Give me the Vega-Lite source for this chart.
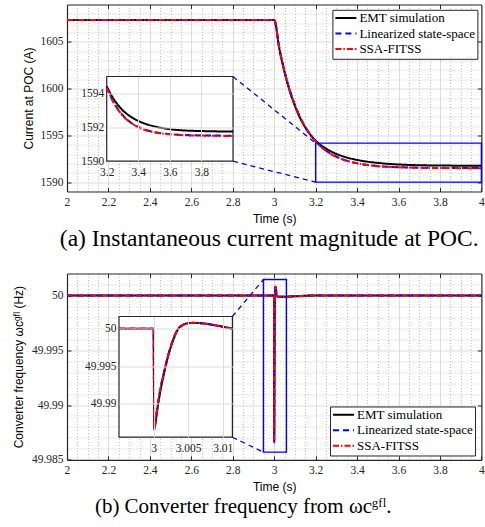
{
"$schema": "https://vega.github.io/schema/vega-lite/v6.json",
"padding": {"left": 12, "top": 3.5, "right": 0, "bottom": 0},
"bounds": "flush",
"spacing": 82,
"config": {
  "view": {"stroke": null},
  "axis": {"labelFont": "Liberation Serif", "labelFontSize": 11.5, "labelColor": "#262626", "titleFont": "Liberation Sans", "titleFontSize": 12, "titleFontWeight": "normal", "titleColor": "#000000", "tickColor": "#262626", "domainColor": "#262626", "domainWidth": 1.2, "tickWidth": 1, "labelFlush": false, "labelOverlap": false, "tickSize": -4}
},
"resolve": {"scale": {"color": "independent", "strokeDash": "independent"}},
"datasets": {
  "cur": [
    {"s":"EMT simulation","t":2,"v":1607.35},{"s":"EMT simulation","t":3,"v":1607.35},{"s":"EMT simulation","t":3.025,"v":1604.25},{"s":"EMT simulation","t":3.05,"v":1601.75},{"s":"EMT simulation","t":3.075,"v":1599.75},{"s":"EMT simulation","t":3.1,"v":1598.15},{"s":"EMT simulation","t":3.125,"v":1596.85},{"s":"EMT simulation","t":3.15,"v":1595.85},{"s":"EMT simulation","t":3.175,"v":1595.05},{"s":"EMT simulation","t":3.2,"v":1594.43},{"s":"EMT simulation","t":3.225,"v":1593.97},{"s":"EMT simulation","t":3.25,"v":1593.59},{"s":"EMT simulation","t":3.275,"v":1593.28},{"s":"EMT simulation","t":3.3,"v":1593.02},{"s":"EMT simulation","t":3.35,"v":1592.64},{"s":"EMT simulation","t":3.4,"v":1592.38},{"s":"EMT simulation","t":3.45,"v":1592.19},{"s":"EMT simulation","t":3.5,"v":1592.06},{"s":"EMT simulation","t":3.55,"v":1591.96},{"s":"EMT simulation","t":3.6,"v":1591.89},{"s":"EMT simulation","t":3.7,"v":1591.81},{"s":"EMT simulation","t":3.8,"v":1591.78},{"s":"EMT simulation","t":3.9,"v":1591.76},{"s":"EMT simulation","t":4,"v":1591.75},
    {"s":"Linearized state-space","t":2,"v":1607.35},{"s":"Linearized state-space","t":3,"v":1607.35},{"s":"Linearized state-space","t":3.025,"v":1604.31},{"s":"Linearized state-space","t":3.05,"v":1601.85},{"s":"Linearized state-space","t":3.075,"v":1599.86},{"s":"Linearized state-space","t":3.1,"v":1598.26},{"s":"Linearized state-space","t":3.125,"v":1596.96},{"s":"Linearized state-space","t":3.15,"v":1595.91},{"s":"Linearized state-space","t":3.175,"v":1595.07},{"s":"Linearized state-space","t":3.2,"v":1594.38},{"s":"Linearized state-space","t":3.225,"v":1593.83},{"s":"Linearized state-space","t":3.25,"v":1593.38},{"s":"Linearized state-space","t":3.275,"v":1593.02},{"s":"Linearized state-space","t":3.3,"v":1592.73},{"s":"Linearized state-space","t":3.35,"v":1592.3},{"s":"Linearized state-space","t":3.4,"v":1592.02},{"s":"Linearized state-space","t":3.45,"v":1591.84},{"s":"Linearized state-space","t":3.5,"v":1591.72},{"s":"Linearized state-space","t":3.55,"v":1591.65},{"s":"Linearized state-space","t":3.6,"v":1591.6},{"s":"Linearized state-space","t":3.7,"v":1591.54},{"s":"Linearized state-space","t":3.8,"v":1591.52},{"s":"Linearized state-space","t":3.9,"v":1591.51},{"s":"Linearized state-space","t":4,"v":1591.5},
    {"s":"SSA-FITSS","t":2,"v":1607.35},{"s":"SSA-FITSS","t":3,"v":1607.35},{"s":"SSA-FITSS","t":3.025,"v":1604.3},{"s":"SSA-FITSS","t":3.05,"v":1601.84},{"s":"SSA-FITSS","t":3.075,"v":1599.85},{"s":"SSA-FITSS","t":3.1,"v":1598.25},{"s":"SSA-FITSS","t":3.125,"v":1596.95},{"s":"SSA-FITSS","t":3.15,"v":1595.9},{"s":"SSA-FITSS","t":3.175,"v":1595.06},{"s":"SSA-FITSS","t":3.2,"v":1594.36},{"s":"SSA-FITSS","t":3.225,"v":1593.81},{"s":"SSA-FITSS","t":3.25,"v":1593.36},{"s":"SSA-FITSS","t":3.275,"v":1593.0},{"s":"SSA-FITSS","t":3.3,"v":1592.71},{"s":"SSA-FITSS","t":3.35,"v":1592.29},{"s":"SSA-FITSS","t":3.4,"v":1592.01},{"s":"SSA-FITSS","t":3.45,"v":1591.83},{"s":"SSA-FITSS","t":3.5,"v":1591.71},{"s":"SSA-FITSS","t":3.55,"v":1591.64},{"s":"SSA-FITSS","t":3.6,"v":1591.59},{"s":"SSA-FITSS","t":3.7,"v":1591.53},{"s":"SSA-FITSS","t":3.8,"v":1591.51},{"s":"SSA-FITSS","t":3.9,"v":1591.5},{"s":"SSA-FITSS","t":4,"v":1591.49}
  ],
  "freq": [
    {"s":"EMT simulation","t":2,"v":50},{"s":"EMT simulation","t":2.995,"v":50},{"s":"EMT simulation","t":3,"v":50},{"s":"EMT simulation","t":3.0001,"v":49.9868},{"s":"EMT simulation","t":3.0003,"v":49.9876},{"s":"EMT simulation","t":3.0006,"v":49.9896},{"s":"EMT simulation","t":3.001,"v":49.9918},{"s":"EMT simulation","t":3.0015,"v":49.994},{"s":"EMT simulation","t":3.002,"v":49.996},{"s":"EMT simulation","t":3.0025,"v":49.9976},{"s":"EMT simulation","t":3.003,"v":49.9989},{"s":"EMT simulation","t":3.0035,"v":49.9999},{"s":"EMT simulation","t":3.004,"v":50.00036},{"s":"EMT simulation","t":3.0045,"v":50.00063},{"s":"EMT simulation","t":3.005,"v":50.00075},{"s":"EMT simulation","t":3.0058,"v":50.0008},{"s":"EMT simulation","t":3.0065,"v":50.00078},{"s":"EMT simulation","t":3.0075,"v":50.0007},{"s":"EMT simulation","t":3.0085,"v":50.00055},{"s":"EMT simulation","t":3.0095,"v":50.00038},{"s":"EMT simulation","t":3.0105,"v":50.0002},{"s":"EMT simulation","t":3.0114,"v":50.0},{"s":"EMT simulation","t":3.02,"v":49.99988},{"s":"EMT simulation","t":3.05,"v":49.99988},{"s":"EMT simulation","t":3.1,"v":49.99992},{"s":"EMT simulation","t":3.2,"v":50},{"s":"EMT simulation","t":4,"v":50},
    {"s":"Linearized state-space","t":2,"v":50},{"s":"Linearized state-space","t":2.995,"v":50},{"s":"Linearized state-space","t":3,"v":50},{"s":"Linearized state-space","t":3.0001,"v":49.9866},{"s":"Linearized state-space","t":3.0003,"v":49.9878},{"s":"Linearized state-space","t":3.0006,"v":49.9899},{"s":"Linearized state-space","t":3.001,"v":49.9921},{"s":"Linearized state-space","t":3.0015,"v":49.9942},{"s":"Linearized state-space","t":3.002,"v":49.9961},{"s":"Linearized state-space","t":3.0025,"v":49.9977},{"s":"Linearized state-space","t":3.003,"v":49.999},{"s":"Linearized state-space","t":3.0035,"v":49.99995},{"s":"Linearized state-space","t":3.004,"v":50.0004},{"s":"Linearized state-space","t":3.0045,"v":50.00065},{"s":"Linearized state-space","t":3.005,"v":50.00076},{"s":"Linearized state-space","t":3.0058,"v":50.0008},{"s":"Linearized state-space","t":3.0065,"v":50.00078},{"s":"Linearized state-space","t":3.0075,"v":50.0007},{"s":"Linearized state-space","t":3.0085,"v":50.00055},{"s":"Linearized state-space","t":3.0095,"v":50.00038},{"s":"Linearized state-space","t":3.0105,"v":50.0002},{"s":"Linearized state-space","t":3.0114,"v":50.0},{"s":"Linearized state-space","t":3.02,"v":49.99988},{"s":"Linearized state-space","t":3.05,"v":49.99988},{"s":"Linearized state-space","t":3.1,"v":49.99992},{"s":"Linearized state-space","t":3.2,"v":50},{"s":"Linearized state-space","t":4,"v":50},
    {"s":"SSA-FITSS","t":2,"v":50},{"s":"SSA-FITSS","t":2.995,"v":50},{"s":"SSA-FITSS","t":3,"v":50},{"s":"SSA-FITSS","t":3.0001,"v":49.9866},{"s":"SSA-FITSS","t":3.0003,"v":49.9878},{"s":"SSA-FITSS","t":3.0006,"v":49.9899},{"s":"SSA-FITSS","t":3.001,"v":49.9921},{"s":"SSA-FITSS","t":3.0015,"v":49.9942},{"s":"SSA-FITSS","t":3.002,"v":49.9961},{"s":"SSA-FITSS","t":3.0025,"v":49.9977},{"s":"SSA-FITSS","t":3.003,"v":49.999},{"s":"SSA-FITSS","t":3.0035,"v":49.99995},{"s":"SSA-FITSS","t":3.004,"v":50.0004},{"s":"SSA-FITSS","t":3.0045,"v":50.00065},{"s":"SSA-FITSS","t":3.005,"v":50.00076},{"s":"SSA-FITSS","t":3.0058,"v":50.0008},{"s":"SSA-FITSS","t":3.0065,"v":50.00078},{"s":"SSA-FITSS","t":3.0075,"v":50.0007},{"s":"SSA-FITSS","t":3.0085,"v":50.00055},{"s":"SSA-FITSS","t":3.0095,"v":50.00038},{"s":"SSA-FITSS","t":3.0105,"v":50.0002},{"s":"SSA-FITSS","t":3.0114,"v":50.0},{"s":"SSA-FITSS","t":3.02,"v":49.99988},{"s":"SSA-FITSS","t":3.05,"v":49.99988},{"s":"SSA-FITSS","t":3.1,"v":49.99992},{"s":"SSA-FITSS","t":3.2,"v":50},{"s":"SSA-FITSS","t":4,"v":50}
  ]
},
"vconcat": [
 {
  "width": 414.4, "height": 187,
  "title": {"text": "(a) Instantaneous current magnitude at POC.", "orient": "bottom", "anchor": "middle", "frame": "group", "font": "Liberation Serif", "fontSize": 23.5, "fontWeight": "normal", "color": "#000000", "offset": 3, "dx": -5},
  "resolve": {"scale": {"x": "independent", "y": "independent"}},
  "layer": [
   {"data": {"name": "cur"}, "mark": {"type": "line", "opacity": 0},
    "encoding": {
     "x": {"field": "t", "type": "quantitative", "scale": {"domain": [2, 4], "nice": false, "zero": false},
       "axis": {"orient": "bottom", "values": [2.05,2.1,2.15,2.25,2.3,2.35,2.45,2.5,2.55,2.65,2.7,2.75,2.85,2.9,2.95,3.05,3.1,3.15,3.25,3.3,3.35,3.45,3.5,3.55,3.65,3.7,3.75,3.85,3.9,3.95], "grid": true, "gridDash": [1, 2], "gridColor": "#b4b4b4", "gridWidth": 0.8, "ticks": false, "labels": false, "domain": false, "title": null}},
     "y": {"field": "v", "type": "quantitative", "scale": {"domain": [1589, 1609], "nice": false, "zero": false},
       "axis": {"orient": "left", "values": [1591,1592,1593,1594,1596,1597,1598,1599,1601,1602,1603,1604,1606,1607,1608], "grid": true, "gridDash": [1, 2], "gridColor": "#b4b4b4", "gridWidth": 0.8, "ticks": false, "labels": false, "domain": false, "title": null}}
    }},
   {"data": {"name": "cur"}, "mark": {"type": "line", "opacity": 0},
    "encoding": {
     "x": {"field": "t", "type": "quantitative", "scale": {"domain": [2, 4], "nice": false, "zero": false},
       "axis": {"orient": "top", "values": [2.2,2.4,2.6,2.8,3,3.2,3.4,3.6,3.8], "grid": true, "gridColor": "#dcdcdc", "gridWidth": 1, "ticks": true, "labels": false, "domain": true, "title": null}},
     "y": {"field": "v", "type": "quantitative", "scale": {"domain": [1589, 1609], "nice": false, "zero": false},
       "axis": {"orient": "right", "values": [1590, 1595, 1600, 1605], "grid": true, "gridColor": "#dcdcdc", "gridWidth": 1, "ticks": true, "labels": false, "domain": true, "title": null}}
    }},
   {"data": {"name": "cur"}, "mark": {"type": "line", "strokeWidth": 2, "interpolate": "monotone"},
    "encoding": {
     "x": {"field": "t", "type": "quantitative", "scale": {"domain": [2, 4], "nice": false, "zero": false},
       "axis": {"orient": "bottom", "values": [2,2.2,2.4,2.6,2.8,3,3.2,3.4,3.6,3.8,4], "format": "~g", "grid": false, "labelFont": "Liberation Serif", "labelFontSize": 11.5, "labelPadding": 9, "title": "Time (s)", "titleFont": "Liberation Sans", "titleFontSize": 12, "titlePadding": 5}},
     "y": {"field": "v", "type": "quantitative", "scale": {"domain": [1589, 1609], "nice": false, "zero": false},
       "axis": {"orient": "left", "values": [1590, 1595, 1600, 1605], "format": "~g", "grid": false, "labelFont": "Liberation Serif", "labelFontSize": 11.5, "labelPadding": 8, "title": "Current at POC (A)", "titleFont": "Liberation Sans", "titleFontSize": 12, "titlePadding": 4}},
     "color": {"field": "s", "type": "nominal", "scale": {"domain": ["EMT simulation", "Linearized state-space", "SSA-FITSS"], "range": ["#000000", "#0000ff", "#ff0000"]},
       "legend": {"orient": "none", "legendX": 265.4, "legendY": 5.3, "title": null, "symbolType": "stroke", "symbolSize": 441, "symbolStrokeWidth": 2, "labelFont": "Liberation Serif", "labelFontSize": 13, "labelColor": "#000000", "strokeColor": "#262626", "fillColor": "#ffffff", "padding": 2, "rowPadding": 1.5, "clipHeight": 12.5, "labelOffset": 2}},
     "strokeDash": {"field": "s", "type": "nominal", "scale": {"domain": ["EMT simulation", "Linearized state-space", "SSA-FITSS"], "range": [[1, 0], [6, 4], [6, 2, 1.5, 2]]},
       "legend": {"orient": "none", "legendX": 265.4, "legendY": 5.3, "title": null, "symbolType": "stroke", "symbolSize": 441, "symbolStrokeWidth": 2, "labelFont": "Liberation Serif", "labelFontSize": 13, "labelColor": "#000000", "strokeColor": "#262626", "fillColor": "#ffffff", "padding": 2, "rowPadding": 1.5, "clipHeight": 12.5, "labelOffset": 2}}
    }},
   {"data": {"values": [{"x1": 3.2, "x2": 4, "y1": 1590, "y2": 1594.17}]}, "mark": {"type": "rect", "filled": false, "stroke": "#0000ff", "strokeWidth": 1.4},
    "encoding": {
     "x": {"field": "x1", "type": "quantitative", "scale": {"domain": [2, 4], "nice": false, "zero": false}, "axis": null},
     "x2": {"field": "x2"},
     "y": {"field": "y1", "type": "quantitative", "scale": {"domain": [1589, 1609], "nice": false, "zero": false}, "axis": null},
     "y2": {"field": "y2"}
    }},
   {"data": {"values": [{"x1": 2.801, "y1": 1601.3, "x2": 3.2, "y2": 1594.17}, {"x1": 2.801, "y1": 1592.24, "x2": 3.2, "y2": 1590}]}, "mark": {"type": "rule", "stroke": "#0000ff", "strokeWidth": 1.3, "strokeDash": [5, 4]},
    "encoding": {
     "x": {"field": "x1", "type": "quantitative", "scale": {"domain": [2, 4], "nice": false, "zero": false}, "axis": null},
     "x2": {"field": "x2"},
     "y": {"field": "y1", "type": "quantitative", "scale": {"domain": [1589, 1609], "nice": false, "zero": false}, "axis": null},
     "y2": {"field": "y2"}
    }},
   {"data": {"values": [{"x1": 3.2, "x2": 4, "y1": 1590, "y2": 1595}]}, "mark": {"type": "rect", "fill": "#ffffff", "stroke": "#262626", "strokeWidth": 1.2},
    "encoding": {
     "x": {"field": "x1", "type": "quantitative", "scale": {"domain": [3.2, 4], "range": [39.7, 166], "nice": false, "zero": false},
       "axis": {"orient": "top", "values": [3.4, 3.6, 3.8], "grid": true, "gridColor": "#dcdcdc", "gridWidth": 1, "ticks": false, "labels": false, "domain": false, "title": null, "zindex": 1}},
     "x2": {"field": "x2"},
     "y": {"field": "y1", "type": "quantitative", "scale": {"domain": [1590, 1595], "range": [156.7, 72], "nice": false, "zero": false},
       "axis": {"orient": "left", "values": [1592, 1594], "grid": true, "gridColor": "#dcdcdc", "gridWidth": 1, "ticks": false, "labels": false, "domain": false, "title": null, "zindex": 1}},
     "y2": {"field": "y2"}
    }},
   {"data": {"name": "cur"}, "transform": [{"filter": "datum.t >= 3.2"}], "mark": {"type": "line", "strokeWidth": 2, "interpolate": "monotone"},
    "encoding": {
     "x": {"field": "t", "type": "quantitative", "scale": {"domain": [3.2, 4], "range": [39.7, 166], "nice": false, "zero": false},
       "axis": {"orient": "bottom", "offset": -30.3, "values": [3.2, 3.4, 3.6, 3.8], "format": "~g", "grid": false, "ticks": false, "domain": false, "labelFont": "Liberation Serif", "labelFontSize": 11.5, "labelPadding": 5, "title": null, "zindex": 1}},
     "y": {"field": "v", "type": "quantitative", "scale": {"domain": [1590, 1595], "range": [156.7, 72], "nice": false, "zero": false},
       "axis": {"orient": "left", "offset": -39.7, "values": [1590, 1592, 1594], "format": "~g", "grid": false, "ticks": false, "domain": false, "labelFont": "Liberation Serif", "labelFontSize": 11.5, "labelPadding": 3, "title": null, "zindex": 1}},
     "color": {"field": "s", "type": "nominal", "scale": {"domain": ["EMT simulation", "Linearized state-space", "SSA-FITSS"], "range": ["#000000", "#0000ff", "#ff0000"]}},
     "strokeDash": {"field": "s", "type": "nominal", "scale": {"domain": ["EMT simulation", "Linearized state-space", "SSA-FITSS"], "range": [[1, 0], [6, 4], [6, 2, 1.5, 2]]}}
    }}
  ]
 },
 {
  "width": 414.4, "height": 186.3,
  "title": {"text": "(b) Converter frequency from ωcᵍᶠˡ.", "orient": "bottom", "anchor": "middle", "frame": "group", "font": "Liberation Serif", "fontSize": 21, "fontWeight": "normal", "color": "#000000", "offset": 4, "dx": -31},
  "resolve": {"scale": {"x": "independent", "y": "independent"}},
  "layer": [
   {"data": {"name": "freq"}, "mark": {"type": "line", "opacity": 0},
    "encoding": {
     "x": {"field": "t", "type": "quantitative", "scale": {"domain": [2, 4], "nice": false, "zero": false},
       "axis": {"orient": "bottom", "values": [2.05,2.1,2.15,2.25,2.3,2.35,2.45,2.5,2.55,2.65,2.7,2.75,2.85,2.9,2.95,3.05,3.1,3.15,3.25,3.3,3.35,3.45,3.5,3.55,3.65,3.7,3.75,3.85,3.9,3.95], "grid": true, "gridDash": [1, 2], "gridColor": "#b4b4b4", "gridWidth": 0.8, "ticks": false, "labels": false, "domain": false, "title": null}},
     "y": {"field": "v", "type": "quantitative", "scale": {"domain": [49.985, 50.002], "nice": false, "zero": false},
       "axis": {"orient": "left", "values": [49.986,49.987,49.988,49.989,49.991,49.992,49.993,49.994,49.996,49.997,49.998,49.999,50.001], "grid": true, "gridDash": [1, 2], "gridColor": "#b4b4b4", "gridWidth": 0.8, "ticks": false, "labels": false, "domain": false, "title": null}}
    }},
   {"data": {"name": "freq"}, "mark": {"type": "line", "opacity": 0},
    "encoding": {
     "x": {"field": "t", "type": "quantitative", "scale": {"domain": [2, 4], "nice": false, "zero": false},
       "axis": {"orient": "top", "values": [2.2,2.4,2.6,2.8,3,3.2,3.4,3.6,3.8], "grid": true, "gridColor": "#dcdcdc", "gridWidth": 1, "ticks": true, "labels": false, "domain": true, "title": null}},
     "y": {"field": "v", "type": "quantitative", "scale": {"domain": [49.985, 50.002], "nice": false, "zero": false},
       "axis": {"orient": "right", "values": [49.99, 49.995, 50], "grid": true, "gridColor": "#dcdcdc", "gridWidth": 1, "ticks": true, "labels": false, "domain": true, "title": null}}
    }},
   {"data": {"name": "freq"}, "mark": {"type": "line", "strokeWidth": 2, "interpolate": "monotone"},
    "encoding": {
     "x": {"field": "t", "type": "quantitative", "scale": {"domain": [2, 4], "nice": false, "zero": false},
       "axis": {"orient": "bottom", "values": [2,2.2,2.4,2.6,2.8,3,3.2,3.4,3.6,3.8,4], "format": "~g", "grid": false, "labelFont": "Liberation Serif", "labelFontSize": 11.5, "labelPadding": 9, "title": "Time (s)", "titleFont": "Liberation Sans", "titleFontSize": 12, "titlePadding": 5}},
     "y": {"field": "v", "type": "quantitative", "scale": {"domain": [49.985, 50.002], "nice": false, "zero": false},
       "axis": {"orient": "left", "values": [49.985, 49.99, 49.995, 50], "format": "~g", "grid": false, "labelFont": "Liberation Serif", "labelFontSize": 11.5, "labelPadding": 8, "title": "Converter frequency ωcᵍᶠˡ (Hz)", "titleFont": "Liberation Sans", "titleFontSize": 12, "titlePadding": 6}},
     "color": {"field": "s", "type": "nominal", "scale": {"domain": ["EMT simulation", "Linearized state-space", "SSA-FITSS"], "range": ["#000000", "#0000ff", "#ff0000"]},
       "legend": {"orient": "none", "legendX": 263, "legendY": 133, "title": null, "symbolType": "stroke", "symbolSize": 441, "symbolStrokeWidth": 2, "labelFont": "Liberation Serif", "labelFontSize": 13, "labelColor": "#000000", "strokeColor": "#262626", "fillColor": "#ffffff", "padding": 2, "rowPadding": 1.5, "clipHeight": 12.5, "labelOffset": 2}},
     "strokeDash": {"field": "s", "type": "nominal", "scale": {"domain": ["EMT simulation", "Linearized state-space", "SSA-FITSS"], "range": [[1, 0], [6, 4], [6, 2, 1.5, 2]]},
       "legend": {"orient": "none", "legendX": 263, "legendY": 133, "title": null, "symbolType": "stroke", "symbolSize": 441, "symbolStrokeWidth": 2, "labelFont": "Liberation Serif", "labelFontSize": 13, "labelColor": "#000000", "strokeColor": "#262626", "fillColor": "#ffffff", "padding": 2, "rowPadding": 1.5, "clipHeight": 12.5, "labelOffset": 2}}
    }},
   {"data": {"values": [{"x1": 2.948, "x2": 3.059, "y1": 49.9857, "y2": 50.00145}]}, "mark": {"type": "rect", "filled": false, "stroke": "#0000ff", "strokeWidth": 1.4},
    "encoding": {
     "x": {"field": "x1", "type": "quantitative", "scale": {"domain": [2, 4], "nice": false, "zero": false}, "axis": null},
     "x2": {"field": "x2"},
     "y": {"field": "y1", "type": "quantitative", "scale": {"domain": [49.985, 50.002], "nice": false, "zero": false}, "axis": null},
     "y2": {"field": "y2"}
    }},
   {"data": {"values": [{"x1": 2.798, "y1": 49.99808, "x2": 2.948, "y2": 50.00145}, {"x1": 2.798, "y1": 49.98706, "x2": 2.948, "y2": 49.9857}]}, "mark": {"type": "rule", "stroke": "#0000ff", "strokeWidth": 1.3, "strokeDash": [5, 4]},
    "encoding": {
     "x": {"field": "x1", "type": "quantitative", "scale": {"domain": [2, 4], "nice": false, "zero": false}, "axis": null},
     "x2": {"field": "x2"},
     "y": {"field": "y1", "type": "quantitative", "scale": {"domain": [49.985, 50.002], "nice": false, "zero": false}, "axis": null},
     "y2": {"field": "y2"}
    }},
   {"data": {"values": [{"x1": 2.995, "x2": 3.0114, "y1": 49.98555, "y2": 50.00165}]}, "mark": {"type": "rect", "fill": "#ffffff", "stroke": "#262626", "strokeWidth": 1.2},
    "encoding": {
     "x": {"field": "x1", "type": "quantitative", "scale": {"domain": [2.995, 3.0114], "range": [52, 165.4], "nice": false, "zero": false},
       "axis": {"orient": "top", "values": [3, 3.005, 3.01], "grid": true, "gridColor": "#dcdcdc", "gridWidth": 1, "ticks": false, "labels": false, "domain": false, "title": null, "zindex": 1}},
     "x2": {"field": "x2"},
     "y": {"field": "y1", "type": "quantitative", "scale": {"domain": [49.98555, 50.00165], "range": [163.7, 43], "nice": false, "zero": false},
       "axis": {"orient": "left", "values": [49.99, 49.995, 50], "grid": true, "gridColor": "#dcdcdc", "gridWidth": 1, "ticks": false, "labels": false, "domain": false, "title": null, "zindex": 1}},
     "y2": {"field": "y2"}
    }},
   {"data": {"name": "freq"}, "transform": [{"filter": "datum.t >= 2.995 && datum.t <= 3.0114"}], "mark": {"type": "line", "strokeWidth": 2, "interpolate": "monotone"},
    "encoding": {
     "x": {"field": "t", "type": "quantitative", "scale": {"domain": [2.995, 3.0114], "range": [52, 165.4], "nice": false, "zero": false},
       "axis": {"orient": "bottom", "offset": -22.6, "values": [3, 3.005, 3.01], "format": "~g", "grid": false, "ticks": false, "domain": false, "labelFont": "Liberation Serif", "labelFontSize": 11.5, "labelPadding": 5, "title": null, "zindex": 1}},
     "y": {"field": "v", "type": "quantitative", "scale": {"domain": [49.98555, 50.00165], "range": [163.7, 43], "nice": false, "zero": false},
       "axis": {"orient": "left", "offset": -52, "values": [49.99, 49.995, 50], "format": "~g", "grid": false, "ticks": false, "domain": false, "labelFont": "Liberation Serif", "labelFontSize": 11.5, "labelPadding": 3, "title": null, "zindex": 1}},
     "color": {"field": "s", "type": "nominal", "scale": {"domain": ["EMT simulation", "Linearized state-space", "SSA-FITSS"], "range": ["#000000", "#0000ff", "#ff0000"]}},
     "strokeDash": {"field": "s", "type": "nominal", "scale": {"domain": ["EMT simulation", "Linearized state-space", "SSA-FITSS"], "range": [[1, 0], [6, 4], [6, 2, 1.5, 2]]}}
    }}
  ]
 }
]
}
